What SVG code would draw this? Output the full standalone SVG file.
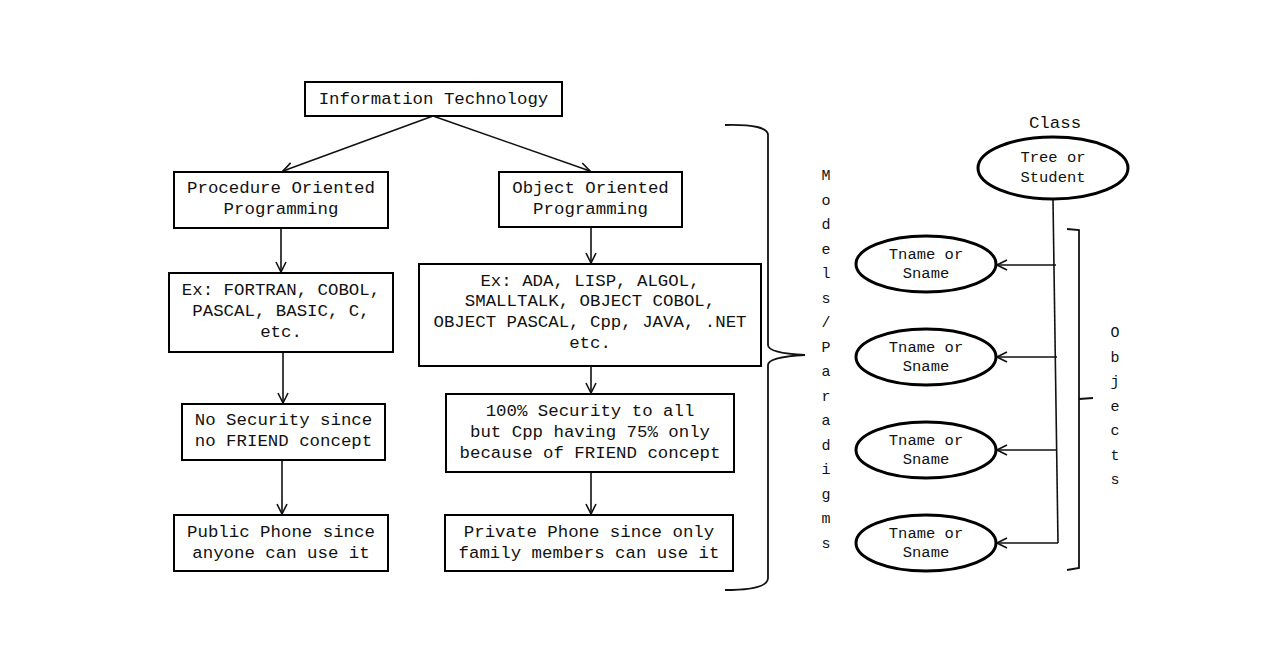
<svg xmlns="http://www.w3.org/2000/svg" width="1263" height="650" viewBox="0 0 1263 650">
<style>
.box{fill:#fff;stroke:#000;stroke-width:2}
.ell{fill:#fff;stroke:#000;stroke-width:3}
.t{font-family:"Liberation Mono","Courier New",monospace;font-size:17.4px;fill:#111;text-anchor:middle}
.s{font-size:15.5px}
.v{font-family:"Liberation Mono","Courier New",monospace;font-size:15px;fill:#111;text-anchor:middle}
.c{fill:none;stroke:#111;stroke-width:1.6}
.br{fill:none;stroke:#111;stroke-width:1.8}
</style>
<defs>
<marker id="ah" viewBox="0 0 12 12" refX="11" refY="6" markerWidth="12" markerHeight="12" markerUnits="userSpaceOnUse" orient="auto">
<path d="M1,1 L11,6 L1,11" fill="none" stroke="#111" stroke-width="1.6"/>
</marker>
</defs>
<rect width="1263" height="650" fill="#fff"/>

<g id="connectors">
<line class="c" x1="433" y1="116" x2="283" y2="171" marker-end="url(#ah)"/>
<line class="c" x1="433" y1="116" x2="590" y2="171" marker-end="url(#ah)"/>
<line class="c" x1="281" y1="228" x2="281" y2="272" marker-end="url(#ah)"/>
<line class="c" x1="283" y1="352" x2="283" y2="403" marker-end="url(#ah)"/>
<line class="c" x1="282" y1="460" x2="282" y2="514" marker-end="url(#ah)"/>
<line class="c" x1="591" y1="227" x2="591" y2="263" marker-end="url(#ah)"/>
<line class="c" x1="591" y1="366" x2="591" y2="393" marker-end="url(#ah)"/>
<line class="c" x1="591" y1="472" x2="591" y2="514" marker-end="url(#ah)"/>
<line class="c" x1="1053" y1="200" x2="1058" y2="543"/>
<line class="c" x1="1056" y1="265" x2="997" y2="265" marker-end="url(#ah)"/>
<line class="c" x1="1057" y1="357" x2="997" y2="357" marker-end="url(#ah)"/>
<line class="c" x1="1057" y1="450" x2="997" y2="450" marker-end="url(#ah)"/>
<line class="c" x1="1058" y1="543" x2="997" y2="543" marker-end="url(#ah)"/>
</g>

<g id="brace-models">
<path class="br" d="M725,125 Q768,124 768,135 L768,345 Q768,353 805,355 Q768,357 768,365 L768,578 Q768,590 725,590"/>
</g>
<g id="brace-objects">
<path class="br" d="M1067,229 L1079,230 L1079,568 L1067,570 M1079,399 L1093,398"/>
</g>

<g id="it"><rect class="box" x="305" y="82" width="257" height="34"/>
<text class="t" x="433.5" y="104">Information Technology</text></g>

<g id="pop"><rect class="box" x="174" y="172" width="214" height="56"/>
<text class="t" x="281" y="193">Procedure Oriented</text>
<text class="t" x="281" y="214">Programming</text></g>

<g id="oop"><rect class="box" x="499" y="172" width="183" height="55"/>
<text class="t" x="590.5" y="193">Object Oriented</text>
<text class="t" x="590.5" y="214">Programming</text></g>

<g id="ex-pop"><rect class="box" x="169" y="273" width="224" height="79"/>
<text class="t" x="281" y="295">Ex: FORTRAN, COBOL,</text>
<text class="t" x="281" y="316">PASCAL, BASIC, C,</text>
<text class="t" x="281" y="337">etc.</text></g>

<g id="ex-oop"><rect class="box" x="419" y="264" width="342" height="102"/>
<text class="t" x="590" y="286">Ex: ADA, LISP, ALGOL,</text>
<text class="t" x="590" y="306">SMALLTALK, OBJECT COBOL,</text>
<text class="t" x="590" y="327">OBJECT PASCAL, Cpp, JAVA, .NET</text>
<text class="t" x="590" y="348">etc.</text></g>

<g id="nosec"><rect class="box" x="182" y="404" width="203" height="56"/>
<text class="t" x="283.5" y="425">No Security since</text>
<text class="t" x="283.5" y="446">no FRIEND concept</text></g>

<g id="sec"><rect class="box" x="446" y="394" width="288" height="78"/>
<text class="t" x="590" y="416">100% Security to all</text>
<text class="t" x="590" y="437">but Cpp having 75% only</text>
<text class="t" x="590" y="458">because of FRIEND concept</text></g>

<g id="public"><rect class="box" x="174" y="515" width="214" height="56"/>
<text class="t" x="281" y="537">Public Phone since</text>
<text class="t" x="281" y="558">anyone can use it</text></g>

<g id="private"><rect class="box" x="445" y="515" width="288" height="56"/>
<text class="t" x="589" y="537">Private Phone since only</text>
<text class="t" x="589" y="558">family members can use it</text></g>

<g id="models-label">
<text class="v" x="826" y="180">M</text>
<text class="v" x="826" y="204.5">o</text>
<text class="v" x="826" y="229">d</text>
<text class="v" x="826" y="253.5">e</text>
<text class="v" x="826" y="278">l</text>
<text class="v" x="826" y="302.5">s</text>
<text class="v" x="826" y="327">/</text>
<text class="v" x="826" y="351.5">P</text>
<text class="v" x="826" y="376">a</text>
<text class="v" x="826" y="400.5">r</text>
<text class="v" x="826" y="425">a</text>
<text class="v" x="826" y="449.5">d</text>
<text class="v" x="826" y="474">i</text>
<text class="v" x="826" y="498.5">g</text>
<text class="v" x="826" y="523">m</text>
<text class="v" x="826" y="547.5">s</text>
</g>

<g id="class">
<text class="t" x="1055" y="128">Class</text>
<ellipse class="ell" cx="1053" cy="168" rx="75" ry="31"/>
<text class="t s" x="1053" y="162">Tree or</text>
<text class="t s" x="1053" y="182">Student</text>
</g>

<g id="obj1"><ellipse class="ell" cx="926" cy="264" rx="70" ry="28"/>
<text class="t s" x="926" y="259">Tname or</text>
<text class="t s" x="926" y="278">Sname</text></g>
<g id="obj2"><ellipse class="ell" cx="926" cy="357" rx="70" ry="28"/>
<text class="t s" x="926" y="352">Tname or</text>
<text class="t s" x="926" y="371">Sname</text></g>
<g id="obj3"><ellipse class="ell" cx="926" cy="450" rx="70" ry="28"/>
<text class="t s" x="926" y="445">Tname or</text>
<text class="t s" x="926" y="464">Sname</text></g>
<g id="obj4"><ellipse class="ell" cx="926" cy="543" rx="70" ry="28"/>
<text class="t s" x="926" y="538">Tname or</text>
<text class="t s" x="926" y="557">Sname</text></g>

<g id="objects-label">
<text class="v" x="1115" y="337">O</text>
<text class="v" x="1115" y="361.5">b</text>
<text class="v" x="1115" y="386">j</text>
<text class="v" x="1115" y="410.5">e</text>
<text class="v" x="1115" y="435">c</text>
<text class="v" x="1115" y="459.5">t</text>
<text class="v" x="1115" y="484">s</text>
</g>
</svg>
